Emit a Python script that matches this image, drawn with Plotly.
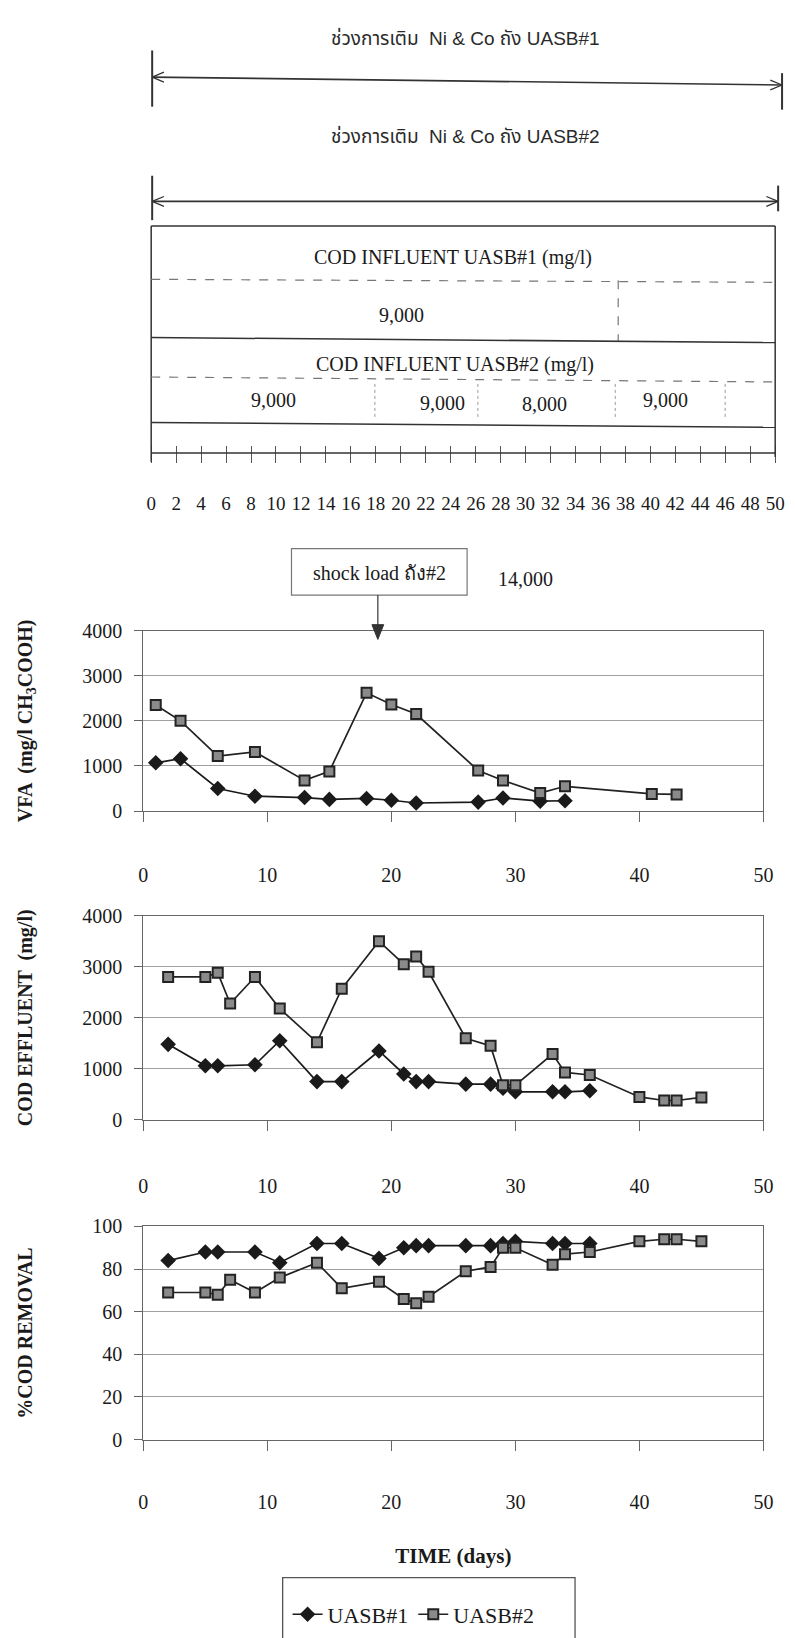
import plotly.graph_objects as go

W, H = 795, 1638


def px(x):
    return x / W


def py(y):
    return 1 - y / H


# ---------------- data ----------------
vfa_days_1 = [1, 3, 6, 9, 13, 15, 18, 20, 22, 27, 29, 32, 34]
vfa_uasb1 = [1070, 1160, 500, 330, 300, 260, 280, 240, 180, 200, 290, 220, 230]
vfa_days_2 = [1, 3, 6, 9, 13, 15, 18, 20, 22, 27, 29, 32, 34, 41, 43]
vfa_uasb2 = [2350, 2000, 1220, 1310, 680, 880, 2620, 2360, 2150, 900, 680, 400, 550, 380, 370]

cod_days_1 = [2, 5, 6, 9, 11, 14, 16, 19, 21, 22, 23, 26, 28, 29, 30, 33, 34, 36]
cod_uasb1 = [1480, 1060, 1060, 1080, 1550, 750, 750, 1350, 900, 750, 750, 700, 700, 620, 550, 550, 550, 570]
cod_days_2 = [2, 5, 6, 7, 9, 11, 14, 16, 19, 21, 22, 23, 26, 28, 29, 30, 33, 34, 36, 40, 42, 43, 45]
cod_uasb2 = [2800, 2800, 2880, 2280, 2800, 2180, 1520, 2570, 3500, 3050, 3200, 2900, 1600, 1450,
             680, 680, 1290, 930, 880, 450, 380, 380, 440]

rem_days_1 = [2, 5, 6, 9, 11, 14, 16, 19, 21, 22, 23, 26, 28, 29, 30, 33, 34, 36]
rem_uasb1 = [84, 88, 88, 88, 83, 92, 92, 85, 90, 91, 91, 91, 91, 92, 93, 92, 92, 92]
rem_days_2 = [2, 5, 6, 7, 9, 11, 14, 16, 19, 21, 22, 23, 26, 28, 29, 30, 33, 34, 36, 40, 42, 43, 45]
rem_uasb2 = [69, 69, 68, 75, 69, 76, 83, 71, 74, 66, 64, 67, 79, 81, 90, 90, 82, 87, 88, 93, 94, 94, 93]

series_names = ["UASB#1", "UASB#2"]
time_ticks = list(range(0, 51, 10))
day_ticks = list(range(0, 51, 2))
vfa_ticks = [0, 1000, 2000, 3000, 4000]
cod_ticks = [0, 1000, 2000, 3000, 4000]
rem_ticks = [0, 20, 40, 60, 80, 100]

influent1_values = ["9,000"]
influent2_values = ["9,000", "9,000", "8,000", "9,000"]
shock_value = "14,000"

header1 = "ช่วงการเติม  Ni & Co ถัง UASB#1"
header2 = "ช่วงการเติม  Ni & Co ถัง UASB#2"
row1_label = "COD INFLUENT UASB#1 (mg/l)"
row2_label = "COD INFLUENT UASB#2 (mg/l)"
shock_label = "shock load ถัง#2"

# ---------------- styling / layout constants ----------------
SERIF = "Liberation Serif, Times New Roman, serif"
SANS = "Liberation Sans Narrow, Liberation Sans, Noto Sans Thai, DejaVu Sans, sans-serif"
INK = "#1a1a1a"
GRID = "#a0a0a0"
AXIS = "#666666"

PLOT_L, PLOT_R = 141, 773
TABLE_L, TABLE_R = 149, 785

s1 = dict(mode="lines+markers", line=dict(color=INK, width=1.7),
          marker=dict(symbol="diamond", size=12, color=INK))
s2 = dict(mode="lines+markers", line=dict(color="#222222", width=1.7),
          marker=dict(symbol="square", size=10, color="#8a8a8a",
                      line=dict(color="#222222", width=2)))

fig = go.Figure()
fig.add_trace(go.Scatter(x=vfa_days_1, y=vfa_uasb1, name=series_names[0], xaxis="x", yaxis="y",
                         legendgroup="a", **s1))
fig.add_trace(go.Scatter(x=vfa_days_2, y=vfa_uasb2, name=series_names[1], xaxis="x", yaxis="y",
                         legendgroup="b", **s2))
fig.add_trace(go.Scatter(x=cod_days_1, y=cod_uasb1, name=series_names[0], xaxis="x2", yaxis="y2",
                         legendgroup="a", showlegend=False, **s1))
fig.add_trace(go.Scatter(x=cod_days_2, y=cod_uasb2, name=series_names[1], xaxis="x2", yaxis="y2",
                         legendgroup="b", showlegend=False, **s2))
fig.add_trace(go.Scatter(x=rem_days_1, y=rem_uasb1, name=series_names[0], xaxis="x3", yaxis="y3",
                         legendgroup="a", showlegend=False, **s1))
fig.add_trace(go.Scatter(x=rem_days_2, y=rem_uasb2, name=series_names[1], xaxis="x3", yaxis="y3",
                         legendgroup="b", showlegend=False, **s2))
# invisible trace so that the day-scale axis of the influent table is drawn
fig.add_trace(go.Scatter(x=day_ticks, y=[0.5] * len(day_ticks), xaxis="x4", yaxis="y4",
                         mode="markers", marker=dict(opacity=0), hoverinfo="skip",
                         showlegend=False))

tickfont = dict(family=SERIF, size=20, color=INK)
titlefont = dict(family=SERIF, size=20, color=INK, weight="bold")


def xaxis(anchor, standoff, title=None):
    d = dict(domain=[px(PLOT_L), px(PLOT_R)], range=[0, 50], tickvals=time_ticks,
             ticks="outside", ticklen=10, tickcolor=AXIS, showline=True, linecolor=AXIS,
             mirror=True, showgrid=False, zeroline=False, anchor=anchor,
             tickfont=tickfont, ticklabelstandoff=standoff)
    if title:
        d["title"] = dict(text=title, font=dict(family=SERIF, size=21, color=INK, weight="bold"),
                          standoff=36)
    return d


def yaxis(anchor, top, bottom, rng, ticks, title, tstand):
    return dict(domain=[py(bottom), py(top)], range=rng, tickvals=ticks,
                ticks="outside", ticklen=8, tickcolor=AXIS, showline=True, linecolor=AXIS,
                mirror=True, showgrid=True, gridcolor=GRID, gridwidth=1, zeroline=False,
                anchor=anchor, tickfont=tickfont, ticklabelstandoff=8,
                title=dict(text=title, font=titlefont, standoff=tstand))


layout = dict(
    width=W, height=H, margin=dict(l=0, r=0, t=0, b=0),
    paper_bgcolor="white", plot_bgcolor="white",
    xaxis=xaxis("y", 36),
    yaxis=yaxis("x", 628, 811, [0, 4000], vfa_ticks, "VFA  (mg/l CH<sub>3</sub>COOH)", 44),
    xaxis2=xaxis("y2", 38),
    yaxis2=yaxis("x2", 917, 1124, [0, 4000], cod_ticks, "COD EFFLUENT  (mg/l)", 44),
    xaxis3=xaxis("y3", 34, "TIME (days)"),
    yaxis3=yaxis("x3", 1232, 1448, [0, 100], rem_ticks, "%COD REMOVAL", 54),
    xaxis4=dict(domain=[px(TABLE_L), px(TABLE_R)], range=[0, 50], tickvals=day_ticks,
                ticks="outside", ticklen=17, tickcolor="#555", tickwidth=1.2, showline=False,
                showgrid=False, zeroline=False, anchor="y4",
                tickfont=dict(family=SERIF, size=19, color=INK), ticklabelstandoff=24),
    yaxis4=dict(domain=[py(440), py(432)], range=[0, 1], showgrid=False, zeroline=False,
                showline=False, showticklabels=False, ticks="", anchor="x4"),
    showlegend=True,
    legend=dict(orientation="h", x=px(288), y=py(1604), xanchor="left", yanchor="top",
                borderwidth=0, bgcolor="rgba(255,255,255,0)",
                font=dict(family=SERIF, size=22, color=INK)),
)
fig.update_layout(**layout)

shapes = []


def seg(x0, y0, x1, y1, color="#333333", width=1.5, dash="solid"):
    shapes.append(dict(type="line", xref="paper", yref="paper",
                       x0=px(x0), y0=py(y0), x1=px(x1), y1=py(y1),
                       line=dict(color=color, width=width, dash=dash)))


# header double arrows
seg(150, 67, 792, 75, width=1.6)
seg(150, 67, 162, 62, width=1.3)
seg(150, 67, 162, 72, width=1.3)
seg(792, 75, 780, 70, width=1.3)
seg(792, 75, 780, 80, width=1.3)
seg(150, 40, 150, 97, width=2)
seg(792, 63, 792, 100, width=2)

seg(150, 193, 788, 193, width=1.6)
seg(150, 193, 162, 188, width=1.3)
seg(150, 193, 162, 198, width=1.3)
seg(788, 193, 776, 188, width=1.3)
seg(788, 193, 776, 198, width=1.3)
seg(150, 167, 150, 212, width=2)
seg(788, 177, 788, 203, width=2)

# influent table
seg(TABLE_L, 218, TABLE_R, 218, width=1.5)
seg(TABLE_L, 218, TABLE_L, 457, width=1.5)
seg(TABLE_R, 218, TABLE_R, 452, width=1.5)
seg(TABLE_L, 272, TABLE_R, 275, color="#777", width=1.2, dash="dash")
seg(625, 273, 625, 335, color="#777", width=1.2, dash="dash")
seg(TABLE_L, 331, TABLE_R, 336, width=1.5)
seg(TABLE_L, 371, TABLE_R, 376, color="#777", width=1.2, dash="dash")
for xd in [377, 482, 622, 734]:
    seg(xd, 378, xd, 412, color="#999", width=1, dash="dot")
seg(TABLE_L, 417, TABLE_R, 422, width=1.5)
seg(TABLE_L, 448, TABLE_R, 448, width=1.3)

# shock load box and arrow
shapes.append(dict(type="rect", xref="paper", yref="paper",
                   x0=px(292), x1=px(471), y0=py(592), y1=py(545),
                   line=dict(color="#777", width=1.2), fillcolor="rgba(255,255,255,0)"))
seg(380, 592, 380, 624, color="#444", width=1.3)
shapes.append(dict(type="path", xref="paper", yref="paper",
                   path=f"M {px(374)} {py(622)} L {px(386)} {py(622)} L {px(380)} {py(637)} Z",
                   line=dict(color="#333", width=1), fillcolor="#333"))

# legend frame (extends past the bottom edge as in the scan)
shapes.append(dict(type="rect", xref="paper", yref="paper",
                   x0=px(283), x1=px(581), y0=py(1650), y1=py(1588),
                   line=dict(color="#555", width=1.3), fillcolor="rgba(255,255,255,0)"))

fig.update_layout(shapes=shapes)

ann = []


def text(x, y, s, font):
    ann.append(dict(x=px(x), y=py(y), xref="paper", yref="paper", text=s, showarrow=False,
                    font=font, xanchor="center", yanchor="middle"))


hfont = dict(family=SANS, size=19, color="#2a2a2a")
tfont = dict(family=SERIF, size=20, color=INK)
text(469, 27, header1, hfont)
text(469, 127, header2, hfont)
text(457, 250, row1_label, tfont)
text(404, 308, influent1_values[0], tfont)
text(459, 358, row2_label, tfont)
for xv, yv, v in zip([274, 446, 550, 673], [394, 397, 398, 394], influent2_values):
    text(xv, yv, v, tfont)
text(382, 570, shock_label, tfont)
text(530, 576, shock_value, tfont)

fig.update_layout(annotations=ann)

fig.write_html("out.html")
